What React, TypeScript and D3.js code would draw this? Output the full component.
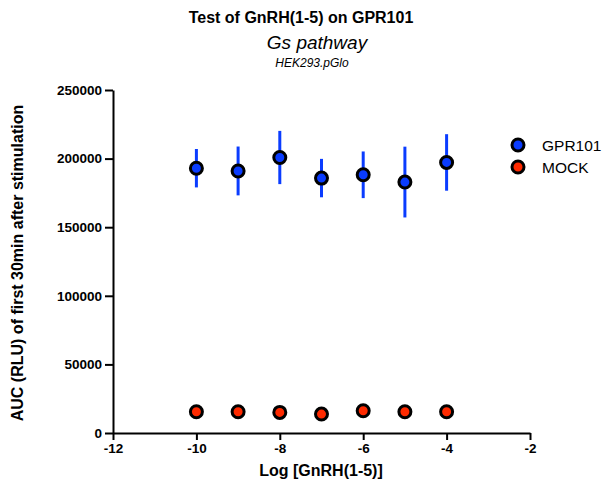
import React, { useEffect, useRef } from "react";
import * as d3 from "d3";

const doses = [-10, -9, -8, -7, -6, -5, -4];
const gpr101Mean = [193000, 191000, 200800, 185800, 188200, 182900, 197200];
const gpr101Err = [14000, 17800, 19400, 14000, 17000, 25800, 20600];
const mockMean = [15500, 15500, 15000, 13800, 16200, 15500, 15500];
const yTicks = [0, 50000, 100000, 150000, 200000, 250000];
const xTicks = [-12, -10, -8, -6, -4, -2];

const series = [
  { name: "GPR101", color: "#0a3cff", mean: gpr101Mean, err: gpr101Err },
  { name: "MOCK", color: "#ff2a00", mean: mockMean, err: null as number[] | null },
];

const W = 603;
const H = 483;
const font = "Liberation Sans, Arial, sans-serif";

export default function App() {
  const ref = useRef<SVGSVGElement>(null);

  useEffect(() => {
    const svg = d3.select(ref.current);
    svg.selectAll("*").remove();

    const x = d3.scaleLinear().domain([-12, -2]).range([113, 530]);
    const y = d3.scaleLinear().domain([0, 250000]).range([433, 90]);

    // titles
    svg.append("text").attr("x", 301).attr("y", 23).attr("text-anchor", "middle")
      .attr("font-family", font).attr("font-weight", "bold").attr("font-size", 16)
      .text("Test of GnRH(1-5) on GPR101");
    svg.append("text").attr("x", 317).attr("y", 49).attr("text-anchor", "middle")
      .attr("font-family", font).attr("font-style", "italic").attr("font-size", 19)
      .text("Gs pathway");
    svg.append("text").attr("x", 312).attr("y", 67).attr("text-anchor", "middle")
      .attr("font-family", font).attr("font-style", "italic").attr("font-size", 12)
      .text("HEK293.pGlo");

    // axes
    const yAxis = svg.append("g").attr("transform", "translate(113,0)")
      .call(d3.axisLeft(y).tickValues(yTicks).tickSize(8).tickSizeOuter(0).tickFormat((d) => String(d)));
    const xAxis = svg.append("g").attr("transform", "translate(0,433)")
      .call(d3.axisBottom(x).tickValues(xTicks).tickSize(7).tickSizeOuter(0).tickFormat((d) => String(d)));
    [yAxis, xAxis].forEach((g) => {
      g.selectAll("path, line").attr("stroke", "#000").attr("stroke-width", 2);
      g.selectAll("text").attr("font-family", font).attr("font-weight", "bold")
        .attr("font-size", 13.5).attr("fill", "#000");
    });
    yAxis.selectAll("text").attr("x", -11);
    xAxis.selectAll("text").attr("y", 10);

    svg.append("text").attr("x", 321).attr("y", 476).attr("text-anchor", "middle")
      .attr("font-family", font).attr("font-weight", "bold").attr("font-size", 16)
      .text("Log [GnRH(1-5)]");
    svg.append("text").attr("transform", "translate(23,263) rotate(-90)").attr("text-anchor", "middle")
      .attr("font-family", font).attr("font-weight", "bold").attr("font-size", 16)
      .text("AUC (RLU) of first 30min after stimulation");

    // data
    series.forEach((s) => {
      const g = svg.append("g");
      if (s.err) {
        g.selectAll("line").data(doses).join("line")
          .attr("x1", (d) => x(d)).attr("x2", (d) => x(d))
          .attr("y1", (d, i) => y(s.mean[i] + s.err![i]))
          .attr("y2", (d, i) => y(s.mean[i] - s.err![i]))
          .attr("stroke", s.color).attr("stroke-width", 3);
      }
      g.selectAll("circle").data(doses).join("circle")
        .attr("cx", (d) => x(d)).attr("cy", (d, i) => y(s.mean[i]))
        .attr("r", 6).attr("fill", s.color).attr("stroke", "#000").attr("stroke-width", 3);
    });

    // legend
    const leg = svg.append("g").selectAll("g").data(series).join("g")
      .attr("transform", (d, i) => `translate(518,${145 + i * 22})`);
    leg.append("circle").attr("r", 6).attr("fill", (d) => d.color)
      .attr("stroke", "#000").attr("stroke-width", 3);
    leg.append("text").attr("x", 24).attr("y", 5.5).attr("font-family", font)
      .attr("font-size", 15.5).text((d) => d.name);
  }, []);

  return <svg ref={ref} width={W} height={H} style={{ position: "absolute", left: 0, top: 0, background: "#fff" }} />;
}
